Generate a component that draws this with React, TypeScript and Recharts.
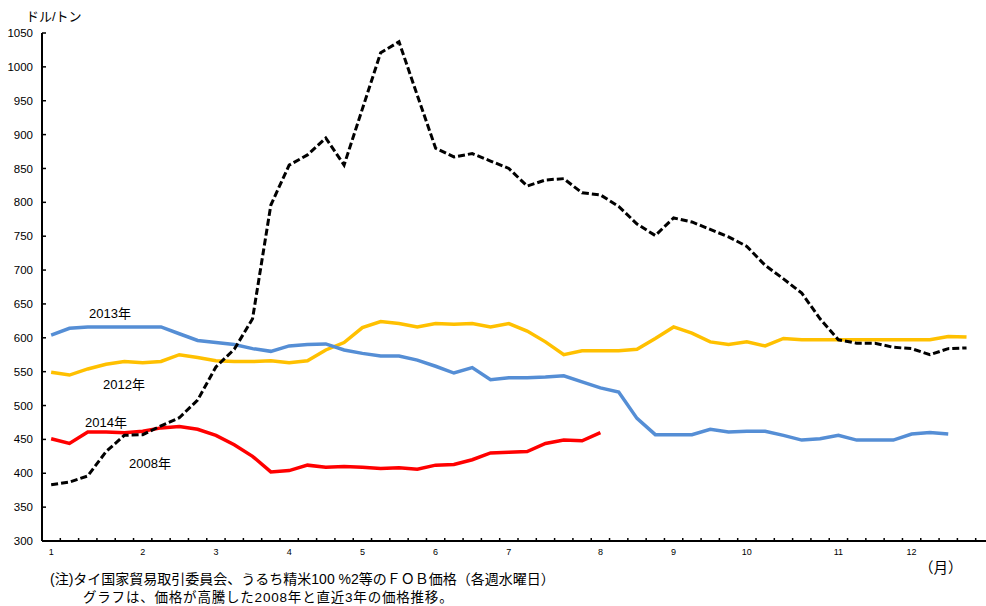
import React from "react";
import { LineChart, Line, XAxis, YAxis } from "recharts";

// weekly FOB prices (USD/t), one value per Wednesday, index = week of year
const price2008 = [383, 387, 396, 432, 456, 457, 470, 482, 508, 557, 583, 628, 796, 855, 870, 895, 855, 938, 1021, 1037, 958, 880, 867, 872, 861, 850, 824, 833, 835, 814, 811, 794, 768, 751, 777, 771, 760, 749, 735, 707, 687, 666, 628, 597, 592, 592, 586, 584, 575, 584, 585];
const price2012 = [549, 545, 554, 561, 565, 563, 565, 575, 571, 566, 565, 565, 566, 563, 566, 582, 593, 615, 624, 621, 616, 621, 620, 621, 616, 621, 610, 594, 575, 581, 581, 581, 583, 599, 616, 607, 594, 590, 594, 588, 599, 597, 597, 597, 597, 597, 597, 597, 597, 602, 601];
const price2013 = [604, 614, 616, 616, 616, 616, 616, 606, 596, 593, 590, 584, 580, 588, 590, 591, 582, 577, 573, 573, 567, 558, 548, 556, 538, 541, 541, 542, 544, 535, 526, 520, 481, 457, 457, 457, 465, 461, 462, 462, 456, 449, 451, 456, 449, 449, 449, 458, 460, 458];
const price2014 = [451, 444, 461, 461, 460, 462, 467, 469, 465, 456, 442, 425, 402, 404, 412, 409, 410, 409, 407, 408, 406, 412, 413, 420, 430, 431, 432, 444, 449, 448, 460];

const monthLabels = ["1", "2", "3", "4", "5", "6", "7", "8", "9", "10", "11", "12"];
const monthStartWeek = [0, 5, 9, 13, 17, 21, 25, 30, 34, 38, 43, 47];
const yTicks = [300, 350, 400, 450, 500, 550, 600, 650, 700, 750, 800, 850, 900, 950, 1000, 1050];

const WEEKS = 52;
const CHART_W = 1000;
const PLOT_W = 952;

const rows = price2008.map((_, i) => ({
  week: i,
  y2008: price2008[i],
  y2012: price2012[i],
  y2013: price2013[i],
  y2014: price2014[i],
}));

// tick marks sit on week boundaries
const boundaryTicks = Array.from({ length: WEEKS + 1 }, (_, k) => k - 0.5);

const font = '"Liberation Sans", "Noto Sans CJK JP", sans-serif';

const MonthTick = (props: any) => {
  const { x, y, payload, width } = props;
  const m = monthStartWeek.indexOf(payload.value + 0.5);
  if (m < 0) return <g />;
  const half = (width || PLOT_W) / WEEKS / 2;
  return (
    <text x={x + half} y={y} dy="0.71em" textAnchor="middle" fontSize={9} fill="#000" fontFamily={font}>
      {monthLabels[m]}
    </text>
  );
};

const note = (left: number, top: number, size: number, text: string, spacing = 0) => (
  <div style={{ position: "absolute", left, top, fontSize: size, lineHeight: 1, letterSpacing: spacing, fontFamily: font, color: "#000", whiteSpace: "nowrap" }}>
    {text}
  </div>
);

export default function App() {
  return (
    <div style={{ position: "fixed", left: 0, top: 0, width: 986, height: 606, overflow: "hidden", background: "#fff" }}>
      <LineChart width={CHART_W} height={606} data={rows} margin={{ top: 33, right: CHART_W - 42 - PLOT_W, bottom: 35, left: 0 }}>
        <XAxis
          dataKey="week"
          type="number"
          domain={[-0.5, WEEKS - 0.5]}
          allowDataOverflow
          ticks={boundaryTicks}
          interval={0}
          tick={<MonthTick />}
          tickSize={-3}
          tickMargin={11}
          height={30}
          axisLine={{ stroke: "#000", strokeWidth: 2 }}
          tickLine={{ stroke: "#000", strokeWidth: 1.5 }}
        />
        <YAxis
          type="number"
          domain={[300, 1050]}
          ticks={yTicks}
          interval={0}
          width={42}
          tickSize={-4}
          tickMargin={13}
          axisLine={{ stroke: "#000", strokeWidth: 2 }}
          tickLine={{ stroke: "#000", strokeWidth: 1.5 }}
          tick={{ fontSize: 11.5, fill: "#000", fontFamily: font }}
        />
        <Line type="linear" dataKey="y2012" stroke="#FFC000" strokeWidth={3.5} dot={false} isAnimationActive={false} />
        <Line type="linear" dataKey="y2013" stroke="#558ED5" strokeWidth={3.5} dot={false} isAnimationActive={false} />
        <Line type="linear" dataKey="y2014" stroke="#FF0000" strokeWidth={3.5} dot={false} isAnimationActive={false} />
        <Line type="linear" dataKey="y2008" stroke="#000" strokeWidth={3} strokeDasharray="7 3" dot={false} isAnimationActive={false} />
      </LineChart>
      {note(26, 10, 13, "ドル/トン")}
      {note(89, 307, 13, "2013年")}
      {note(103, 378, 13, "2012年")}
      {note(85, 416, 13, "2014年")}
      {note(129, 457, 13, "2008年")}
      {note(919, 561, 14.5, "（月）")}
      {note(50, 572, 14, "(注)タイ国家貿易取引委員会、うるち精米100 %2等のＦＯＢ価格（各週水曜日）")}
      {note(83, 591, 13.5, "グラフは、価格が高騰した2008年と直近3年の価格推移。", 0.8)}
    </div>
  );
}
